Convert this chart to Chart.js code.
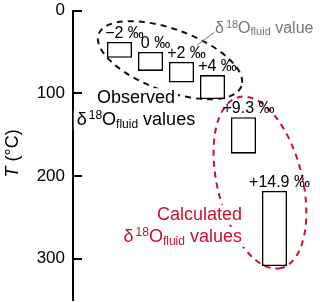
<!DOCTYPE html>
<html>
<head>
<meta charset="utf-8">
<script src="https://cdn.jsdelivr.net/npm/chart.js@4.4.1/dist/chart.umd.min.js"></script>
<style>
  html, body { margin: 0; padding: 0; background: #fff; }
  #wrap { width: 320px; height: 302px; }
</style>
</head>
<body>
<div id="wrap"><canvas id="c"></canvas></div>
<script>
// δ18O fluid value of each box, and the temperature range it spans (°C)
const fluidValues = ['\u22122 \u2030', '0 \u2030', '+2 \u2030', '+4 \u2030', '+9.3 \u2030', '+14.9 \u2030'];
const tempLow  = [38, 50, 62, 78, 129, 218];
const tempHigh = [57, 73, 87, 107, 173, 309];
const yTicks = [0, 100, 200, 300];

const FONT = '"Liberation Sans", Arial, Helvetica, sans-serif';
const RED = '#c8102e';
const GRAY = '#777777';

// first slot is the empty gap between the axis and the first box
const labels = [''].concat(fluidValues);
const ranges = [null].concat(tempLow.map((lo, i) => [lo, tempHigh[i]]));

// annotations, placed in data units (x = category index, y = °C)
const ellipses = [
  { x: 2.63, y: 60, rx: 76, ry: 31, angle: 20, color: '#111' },
  { x: 5.53, y: 208, rx: 88, ry: 42.5, angle: 76, color: RED },
];

function rich(sub) {
  return [
    { t: '\u03b4', s: 18 },
    { t: '18', s: 12, dy: -6, gap: 2 },
    { t: 'O', s: 18 },
    { t: 'fluid', s: 12, dy: 3 },
    { t: sub, s: 18 },
  ];
}

function partsWidth(ctx, parts) {
  let w = 0;
  parts.forEach(p => {
    ctx.font = p.s + 'px ' + FONT;
    w += ctx.measureText(p.t).width + (p.gap || 0);
  });
  return w;
}

function drawParts(ctx, parts, x, y, align, color, knockout) {
  const w = partsWidth(ctx, parts);
  let x0 = align === 'center' ? x - w / 2 : align === 'right' ? x - w : x;
  if (knockout) {
    ctx.fillStyle = '#fff';
    ctx.fillRect(x0 - 3, y - 15, w + 6, 20);
  }
  ctx.fillStyle = color;
  ctx.textAlign = 'left';
  ctx.textBaseline = 'alphabetic';
  parts.forEach(p => {
    x0 += p.gap || 0;
    ctx.font = p.s + 'px ' + FONT;
    ctx.fillText(p.t, x0, y + (p.dy || 0));
    x0 += ctx.measureText(p.t).width;
  });
}

const annotationPlugin = {
  id: 'annotations',
  beforeDatasetsDraw(chart) {
    const { ctx, scales: { x, y } } = chart;
    ctx.save();
    ctx.lineWidth = 2;
    ctx.setLineDash([6, 5]);
    ellipses.forEach(e => {
      ctx.strokeStyle = e.color;
      ctx.beginPath();
      ctx.ellipse(x.getPixelForValue(e.x), y.getPixelForValue(e.y), e.rx, e.ry,
                  e.angle * Math.PI / 180, 0, Math.PI * 2);
      ctx.stroke();
    });
    ctx.restore();
  },
  afterDatasetsDraw(chart) {
    const { ctx, chartArea, scales: { x, y } } = chart;
    ctx.save();

    // value labels above each box
    const meta = chart.getDatasetMeta(0);
    ctx.font = '16px ' + FONT;
    ctx.fillStyle = '#000';
    ctx.textAlign = 'center';
    ctx.textBaseline = 'alphabetic';
    meta.data.forEach((bar, i) => {
      if (!ranges[i]) return;
      const top = Math.min(bar.y, bar.base);
      ctx.fillText(labels[i], bar.x + 5, top - 4);
    });

    // Observed / Calculated group labels
    const ox = x.getPixelForValue(1.53), oy = y.getPixelForValue(112);
    ctx.font = '18px ' + FONT;
    drawParts(ctx, [{ t: 'Observed', s: 18 }], ox, oy, 'center', '#000', true);
    drawParts(ctx, rich(' values'), ox, oy + 22, 'center', '#000', true);

    const cx = x.getPixelForValue(4.95), cy = y.getPixelForValue(253);
    drawParts(ctx, [{ t: 'Calculated', s: 18 }], cx, cy, 'right', RED, true);
    drawParts(ctx, rich(' values'), cx, cy + 22, 'right', RED, true);

    // grey callout
    const gParts = rich(' value').map(p => ({ ...p, s: p.s === 18 ? 16 : 11, dy: p.dy ? p.dy * 0.85 : 0 }));
    drawParts(ctx, gParts, x.getPixelForValue(4.08), y.getPixelForValue(27), 'left', GRAY, false);
    ctx.strokeStyle = GRAY;
    ctx.lineWidth = 1;
    ctx.beginPath();
    ctx.moveTo(x.getPixelForValue(3.5), y.getPixelForValue(42));
    ctx.lineTo(x.getPixelForValue(4.06), y.getPixelForValue(26));
    ctx.stroke();

    // inward tick marks
    ctx.strokeStyle = '#000';
    ctx.lineWidth = 2;
    yTicks.forEach(v => {
      const py = Math.round(y.getPixelForValue(v)) + 0.0;
      ctx.beginPath();
      ctx.moveTo(chartArea.left, py);
      ctx.lineTo(chartArea.left + 9, py);
      ctx.stroke();
    });

    // axis title: italic T, upright (°C)
    ctx.translate(13, (chartArea.top + chartArea.bottom) / 2 - 2);
    ctx.rotate(-Math.PI / 2);
    ctx.textBaseline = 'middle';
    ctx.textAlign = 'left';
    ctx.font = 'italic 18px ' + FONT;
    const wT = ctx.measureText('T').width;
    ctx.font = '18px ' + FONT;
    const wR = ctx.measureText(' (\u00b0C)').width;
    let tx = -(wT + wR) / 2;
    ctx.fillStyle = '#000';
    ctx.font = 'italic 18px ' + FONT;
    ctx.fillText('T', tx, 0);
    ctx.font = '18px ' + FONT;
    ctx.fillText(' (\u00b0C)', tx + wT, 0);

    ctx.restore();
  }
};

new Chart(document.getElementById('c'), {
  type: 'bar',
  data: {
    labels,
    datasets: [{
      data: ranges,
      backgroundColor: '#fff',
      borderColor: '#000',
      borderWidth: 1.6,
      borderSkipped: false,
      barPercentage: 0.81,
      categoryPercentage: 1,
    }],
  },
  options: {
    responsive: true,
    maintainAspectRatio: false,
    animation: false,
    layout: { padding: { left: 0, right: 30, top: 10.6, bottom: 2 } },
    plugins: { legend: { display: false }, tooltip: { enabled: false } },
    scales: {
      x: { display: false },
      y: {
        reverse: true,
        min: 0,
        max: 350,
        afterBuildTicks(scale) { scale.ticks = yTicks.map(v => ({ value: v })); },
        afterFit(scale) { scale.width = 73; scale.paddingTop = 0; scale.paddingBottom = 0; },
        grid: { display: false, drawTicks: false },
        border: { display: true, color: '#000', width: 2 },
        ticks: { color: '#000', padding: 8, font: { family: FONT, size: 17 } },
      },
    },
  },
  plugins: [annotationPlugin],
});
</script>
</body>
</html>
